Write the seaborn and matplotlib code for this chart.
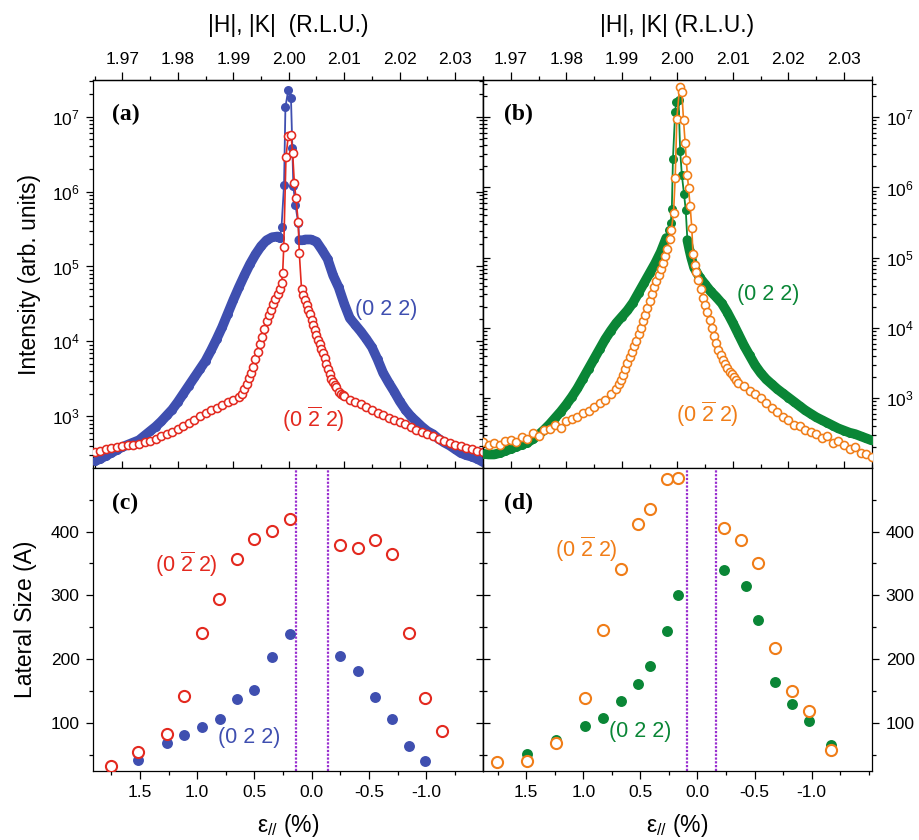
import numpy as np
import pandas as pd
import matplotlib
matplotlib.use("Agg")
import matplotlib.pyplot as plt
import seaborn as sns
from matplotlib.ticker import (MultipleLocator, LogLocator, NullFormatter,
                               FormatStrFormatter, FixedLocator)

# ---------------- data ----------------
# panel (a): (0 2 2) filled blue, (0 -2 2) open red ; log10 intensity
H_a_022 = [1.965, 1.966, 1.967, 1.968, 1.969, 1.970, 1.971, 1.972, 1.973, 1.974,
           1.975, 1.976, 1.977, 1.978, 1.979, 1.980, 1.981, 1.982, 1.983, 1.984,
           1.985, 1.986, 1.987, 1.988, 1.989, 1.990, 1.991, 1.992, 1.993, 1.994,
           1.995, 1.996, 1.997, 1.998,
           1.9984, 1.9987, 1.99915, 1.9994, 1.9999, 2.0004, 2.00065, 2.00083,
           2.0012, 2.0017, 2.0019,
           2.0025, 2.003,
           2.004, 2.005, 2.006, 2.007, 2.008, 2.009, 2.010, 2.011, 2.012, 2.013,
           2.014, 2.015, 2.016, 2.017, 2.018, 2.019, 2.020, 2.021, 2.022, 2.023,
           2.024, 2.025, 2.026, 2.027, 2.028, 2.029, 2.030, 2.031, 2.032, 2.033,
           2.034, 2.035]
logI_a_022 = [2.40, 2.43, 2.47, 2.51, 2.55, 2.59, 2.62, 2.65, 2.68, 2.74,
              2.80, 2.86, 2.93, 3.01, 3.09, 3.19, 3.30, 3.41, 3.52, 3.63,
              3.74, 3.88, 4.03, 4.19, 4.37, 4.55, 4.72, 4.88, 5.03, 5.16,
              5.27, 5.35, 5.39, 5.40,
              5.38, 5.53, 6.09, 7.13, 7.35, 7.25, 6.58, 6.07,
              5.82, 5.58, 5.35,
              5.35, 5.36,
              5.36, 5.33, 5.22, 5.10, 4.88, 4.72, 4.50, 4.31, 4.22, 4.13,
              4.03, 3.92, 3.76, 3.58, 3.45, 3.33, 3.20, 3.09, 3.00, 2.93,
              2.86, 2.80, 2.76, 2.70, 2.65, 2.61, 2.56, 2.51, 2.48, 2.46,
              2.43, 2.39]

H_a_0m22 = [1.965, 1.966, 1.967, 1.968, 1.969, 1.970, 1.971, 1.972, 1.973, 1.974,
            1.975, 1.976, 1.977, 1.978, 1.979, 1.980, 1.981, 1.982, 1.983, 1.984,
            1.985, 1.986, 1.987, 1.988, 1.989, 1.990, 1.991,
            1.9916, 1.9920, 1.9924, 1.9928, 1.9932, 1.9936, 1.9940, 1.9944, 1.9948,
            1.9952, 1.9956, 1.9960, 1.9964, 1.9968, 1.9972, 1.9976, 1.9980, 1.9984,
            1.9987, 1.9989, 1.9991, 1.9995, 1.9999, 2.0004, 2.0007, 2.0010, 2.0013,
            2.0017, 2.0019, 2.0023,
            2.0026, 2.0029, 2.0032, 2.0035, 2.0038, 2.0041, 2.0044, 2.0047, 2.0050,
            2.0053, 2.0056, 2.0059, 2.0062, 2.0065, 2.0068, 2.0071, 2.0074, 2.0077,
            2.0080, 2.0083, 2.0086, 2.0090, 2.0094, 2.0098,
            2.010, 2.011, 2.012, 2.013, 2.014, 2.015, 2.016, 2.017, 2.018, 2.019,
            2.020, 2.021, 2.022, 2.023, 2.024, 2.025, 2.026, 2.027, 2.028, 2.029,
            2.030, 2.031, 2.032, 2.033, 2.034, 2.035]
logI_a_0m22 = [2.52, 2.54, 2.56, 2.58, 2.59, 2.60, 2.61, 2.62, 2.63, 2.65,
               2.67, 2.70, 2.73, 2.76, 2.79, 2.83, 2.87, 2.91, 2.95, 3.00,
               3.04, 3.08, 3.11, 3.15, 3.19, 3.22, 3.26,
               3.30, 3.36, 3.43, 3.51, 3.58, 3.66, 3.76, 3.86, 3.96,
               4.06, 4.17, 4.27, 4.35, 4.42, 4.50, 4.57, 4.63, 4.70,
               4.78, 4.91, 5.26, 6.46, 6.74, 6.76, 6.52, 6.12, 5.91,
               5.60, 5.18, 4.70,
               4.62, 4.55, 4.49, 4.42, 4.37, 4.28, 4.22, 4.15, 4.09,
               4.02, 3.96, 3.90, 3.84, 3.78, 3.70, 3.63, 3.56, 3.50,
               3.46, 3.42, 3.39, 3.33, 3.30, 3.28,
               3.27, 3.22, 3.19, 3.16, 3.12, 3.08, 3.04, 3.01, 2.98, 2.95,
               2.92, 2.89, 2.86, 2.82, 2.79, 2.76, 2.73, 2.70, 2.67, 2.64,
               2.62, 2.60, 2.58, 2.56, 2.54, 2.52]

# panel (b): (0 2 2) filled green, (0 -2 2) open orange ; log10 intensity
H_b_022 = [1.965, 1.966, 1.967, 1.968, 1.969, 1.970, 1.971, 1.972, 1.973, 1.974,
           1.975, 1.976, 1.977, 1.978, 1.979, 1.980, 1.981, 1.982, 1.983, 1.984,
           1.985, 1.986, 1.987, 1.988, 1.989, 1.990, 1.991, 1.992, 1.993, 1.994,
           1.995, 1.996, 1.997, 1.998,
           1.9985, 1.9988, 1.9990, 1.9992, 1.9996, 1.9998, 2.0002, 2.0005, 2.0008,
           2.0012, 2.0015, 2.0018, 2.0022, 2.0025,
           2.003, 2.004, 2.005, 2.006, 2.007, 2.008, 2.009, 2.010, 2.011, 2.012,
           2.013, 2.014, 2.015, 2.016, 2.017, 2.018, 2.019, 2.020, 2.021, 2.022,
           2.023, 2.024, 2.025, 2.026, 2.027, 2.028, 2.029, 2.030, 2.031, 2.032,
           2.033, 2.034, 2.035]
logI_b_022 = [2.21, 2.20, 2.20, 2.22, 2.25, 2.28, 2.31, 2.34, 2.37, 2.42,
              2.48, 2.55, 2.63, 2.72, 2.81, 2.91, 3.02, 3.14, 3.28, 3.42,
              3.56, 3.70, 3.84, 3.96, 4.07, 4.16, 4.25, 4.36, 4.50, 4.64,
              4.78, 4.92, 5.08, 5.28,
              5.40, 5.49, 5.70, 6.41, 7.08, 7.22, 7.25, 6.52, 6.18,
              5.90, 5.68, 5.25, 5.10, 5.00,
              4.86, 4.72, 4.62, 4.52, 4.44, 4.35, 4.22, 4.07, 3.91, 3.75,
              3.61, 3.47, 3.36, 3.27, 3.20, 3.13, 3.07, 3.01, 2.95, 2.89,
              2.83, 2.78, 2.73, 2.69, 2.65, 2.61, 2.57, 2.54, 2.51, 2.49,
              2.46, 2.43, 2.40]

H_b_0m22 = [1.965, 1.966, 1.967, 1.968, 1.969, 1.970, 1.971, 1.972, 1.973, 1.974,
            1.975, 1.976, 1.977, 1.978, 1.979, 1.980, 1.981, 1.982, 1.983, 1.984,
            1.985, 1.986, 1.987, 1.988, 1.989,
            1.9894, 1.9898, 1.9902, 1.9906, 1.9910, 1.9914, 1.9918, 1.9922, 1.9926,
            1.9930, 1.9934, 1.9938, 1.9942, 1.9946, 1.9950, 1.9954, 1.9958, 1.9962,
            1.9966, 1.9970, 1.9974, 1.9978, 1.9982, 1.9986,
            1.9989, 1.9993, 1.9996, 1.9999, 2.0004, 2.0008, 2.0011, 2.0014, 2.0016,
            2.0018, 2.0020, 2.0023, 2.0026, 2.0028, 2.0031, 2.0034,
            2.0038, 2.0042, 2.0046, 2.0050, 2.0054, 2.0058, 2.0062, 2.0066, 2.0070,
            2.0074, 2.0078, 2.0082, 2.0086, 2.0090, 2.0094, 2.0098, 2.0102, 2.0106,
            2.011, 2.012, 2.013, 2.014, 2.015, 2.016, 2.017, 2.018, 2.019, 2.020,
            2.021, 2.022, 2.023, 2.024, 2.025, 2.026, 2.027, 2.028, 2.029, 2.030,
            2.031, 2.032, 2.033, 2.034, 2.035]
logI_b_0m22 = [2.38, 2.33, 2.36, 2.34, 2.39, 2.41, 2.38, 2.45, 2.42, 2.50,
               2.46, 2.55, 2.56, 2.62, 2.58, 2.68, 2.70, 2.74, 2.79, 2.82,
               2.88, 2.93, 2.98, 3.06, 3.13,
               3.20, 3.26, 3.33, 3.42, 3.50, 3.58, 3.66, 3.74, 3.82,
               3.91, 4.00, 4.10, 4.19, 4.28, 4.38, 4.48, 4.58, 4.67,
               4.75, 4.84, 4.93, 5.02, 5.13, 5.27,
               5.39, 5.63, 6.13, 6.98, 7.43, 7.36, 6.96, 6.63, 6.39,
               6.18, 5.99, 5.73, 5.42, 5.06, 4.90, 4.80,
               4.68, 4.55, 4.43, 4.33, 4.23, 4.12, 4.00, 3.88, 3.78,
               3.69, 3.61, 3.55, 3.49, 3.43, 3.38, 3.34, 3.30, 3.26,
               3.22, 3.17, 3.10, 3.06, 3.00, 2.93, 2.86, 2.80, 2.74, 2.69,
               2.62, 2.60, 2.55, 2.52, 2.49, 2.43, 2.46, 2.36, 2.39, 2.33,
               2.28, 2.31, 2.22, 2.20, 2.16]

# panel (c): lateral size (A) vs strain (%)
eps_c_0m22 = [1.751, 1.518, 1.26, 1.112, 0.955, 0.806, 0.652, 0.501, 0.346, 0.189,
              -0.25, -0.401, -0.55, -0.70, -0.846, -0.991, -1.14]
size_c_0m22 = [33, 55, 83, 143, 241, 295, 357, 388, 401, 420,
               379, 374, 387, 365, 241, 139, 87]
eps_c_022 = [1.516, 1.26, 1.112, 0.955, 0.803, 0.652, 0.501, 0.346, 0.189,
             -0.25, -0.401, -0.55, -0.70, -0.846, -0.99]
size_c_022 = [43, 69, 82, 94, 106, 138, 152, 203, 240,
              205, 182, 141, 106, 64, 41]
eps_c_bounds = [0.134, -0.140]

# panel (d)
eps_d_0m22 = [1.757, 1.494, 1.24, 0.986, 0.832, 0.674, 0.525, 0.42, 0.268, 0.169,
              -0.231, -0.383, -0.534, -0.678, -0.827, -0.975, -1.171]
size_d_0m22 = [39, 41, 69, 139, 246, 341, 412, 436, 483, 484,
               405, 387, 350, 218, 151, 119, 58]
eps_d_022 = [1.494, 1.24, 0.986, 0.829, 0.674, 0.523, 0.42, 0.268, 0.169,
             -0.231, -0.429, -0.534, -0.678, -0.827, -0.975, -1.171]
size_d_022 = [51, 74, 95, 108, 135, 162, 190, 245, 301,
              340, 315, 262, 165, 130, 103, 65]
eps_d_bounds = [0.096, -0.158]

eps_tick_labels = [1.5, 1.0, 0.5, 0.0, -0.5, -1.0]

# ---------------- style ----------------
sns.set_theme(style="ticks")
plt.rcParams["font.family"] = ["Liberation Sans", "DejaVu Sans"]
plt.rcParams.update({
    "mathtext.fontset": "custom",
    "mathtext.rm": "Liberation Sans",
    "mathtext.it": "Liberation Sans:italic",
    "mathtext.bf": "Liberation Sans:bold",
    "axes.unicode_minus": False,
    "text.color": "black",
    "axes.labelcolor": "black",
    "axes.edgecolor": "black",
    "xtick.color": "black",
    "ytick.color": "black",
    "axes.linewidth": 0.9,
})

BLUE = "#3f4fb0"
RED = "#e3291f"
GREEN = "#0a8636"
ORANGE = "#f07d18"
PURPLE = "#9a2fd0"
TICK_FS = 12.5
LABEL_FS = 16.5
ANNOT_FS = 15.5

fig = plt.figure(figsize=(9.19, 8.40), dpi=100)
axA = fig.add_axes([0.1017, 0.4425, 0.4238, 0.4623])
axB = fig.add_axes([0.5256, 0.4425, 0.4230, 0.4623])
axC = fig.add_axes([0.1017, 0.0821, 0.4238, 0.3604])
axD = fig.add_axes([0.5256, 0.0821, 0.4230, 0.3604])


def filled_curve(ax, H, logI, color, split):
    df = pd.DataFrame({"H": H, "I": 10 ** np.asarray(logI)})
    for part in (df[(df.I < 10 ** split) & (df.H < 2)],
                 df[(df.I < 10 ** split) & (df.H > 2)]):
        sns.lineplot(data=part, x="H", y="I", ax=ax, color=color, linewidth=7.0,
                     sort=False, estimator=None, solid_capstyle="round", zorder=2)
    sns.lineplot(data=df, x="H", y="I", ax=ax, color=color, linewidth=1.3,
                 marker="o", markersize=6.5, markerfacecolor=color,
                 markeredgecolor=color, markeredgewidth=0.0,
                 sort=False, estimator=None, zorder=3)


def open_curve(ax, H, logI, color):
    df = pd.DataFrame({"H": H, "I": 10 ** np.asarray(logI)})
    sns.lineplot(data=df, x="H", y="I", ax=ax, color=color, linewidth=1.2,
                 marker="o", markersize=5.8, markerfacecolor="white",
                 markeredgecolor=color, markeredgewidth=1.15,
                 sort=False, estimator=None, zorder=4)


def setup_top(ax, xlim, ylim, right_labels):
    ax.set_yscale("log")
    ax.set_xlim(*xlim)
    ax.set_ylim(*ylim)
    ax.set_xlabel("")
    ax.set_ylabel("")
    ax.xaxis.set_major_locator(MultipleLocator(0.01))
    ax.xaxis.set_minor_locator(MultipleLocator(0.005))
    ax.tick_params(axis="x", which="both", direction="in", bottom=True,
                   top=False, labelbottom=False)
    ax.tick_params(axis="x", which="major", length=5, width=0.9)
    ax.tick_params(axis="x", which="minor", length=3, width=0.9)
    ax.yaxis.set_major_locator(LogLocator(base=10, numticks=12))
    ax.yaxis.set_minor_locator(LogLocator(base=10, subs=np.arange(2, 10), numticks=12))
    ax.yaxis.set_minor_formatter(NullFormatter())
    sec = ax.secondary_xaxis("top")
    sec.xaxis.set_major_locator(MultipleLocator(0.01))
    sec.xaxis.set_minor_locator(MultipleLocator(0.005))
    sec.xaxis.set_major_formatter(FormatStrFormatter("%.2f"))
    sec.tick_params(axis="x", which="both", direction="out", labelsize=TICK_FS,
                    pad=3, width=0.9)
    sec.tick_params(axis="x", which="major", length=6)
    sec.tick_params(axis="x", which="minor", length=3)
    if right_labels:
        ax.yaxis.tick_right()
        ax.tick_params(axis="y", which="both", direction="out", right=True,
                       left=False, labelright=True, labelleft=False,
                       labelsize=TICK_FS, pad=5, width=0.9)
        other = ax.secondary_yaxis("left")
    else:
        ax.tick_params(axis="y", which="both", direction="out", left=True,
                       right=False, labelleft=True, labelsize=TICK_FS, pad=5,
                       width=0.9)
        other = ax.secondary_yaxis("right")
    ax.tick_params(axis="y", which="major", length=5)
    ax.tick_params(axis="y", which="minor", length=3)
    other.yaxis.set_major_formatter(NullFormatter())
    other.yaxis.set_minor_formatter(NullFormatter())
    other.tick_params(axis="y", which="both", direction="in", width=0.9)
    other.tick_params(axis="y", which="major", length=5)
    other.tick_params(axis="y", which="minor", length=3)
    return sec


def setup_bottom(ax, xlim, right_labels):
    ax.set_xlim(*xlim)
    ax.set_ylim(25, 499)
    ax.set_xlabel("")
    ax.set_ylabel("")
    ax.xaxis.set_major_locator(FixedLocator(eps_tick_labels))
    ax.xaxis.set_minor_locator(MultipleLocator(0.25))
    ax.xaxis.set_major_formatter(FormatStrFormatter("%.1f"))
    ax.tick_params(axis="x", which="both", direction="out", bottom=True, top=False,
                   labelsize=TICK_FS, pad=4, width=0.9)
    ax.tick_params(axis="x", which="major", length=6)
    ax.tick_params(axis="x", which="minor", length=3)
    ax.yaxis.set_major_locator(MultipleLocator(100))
    ax.yaxis.set_minor_locator(MultipleLocator(50))
    if right_labels:
        ax.yaxis.tick_right()
        ax.tick_params(axis="y", which="both", direction="out", right=True,
                       left=False, labelright=True, labelleft=False,
                       labelsize=TICK_FS, pad=5, width=0.9)
        other = ax.secondary_yaxis("left")
    else:
        ax.tick_params(axis="y", which="both", direction="out", left=True,
                       right=False, labelleft=True, labelsize=TICK_FS, pad=5,
                       width=0.9)
        other = ax.secondary_yaxis("right")
    ax.tick_params(axis="y", which="major", length=5)
    ax.tick_params(axis="y", which="minor", length=3)
    other.yaxis.set_major_locator(MultipleLocator(100))
    other.yaxis.set_minor_locator(MultipleLocator(50))
    other.yaxis.set_major_formatter(NullFormatter())
    other.tick_params(axis="y", which="both", direction="in", width=0.9)
    other.tick_params(axis="y", which="major", length=5)
    other.tick_params(axis="y", which="minor", length=3)
    ax.set_xlabel("ε$_{//}$ (%)", fontsize=LABEL_FS, labelpad=9)


# ---------------- panel (a) ----------------
filled_curve(axA, H_a_022, logI_a_022, BLUE, 5.45)
open_curve(axA, H_a_0m22, logI_a_0m22, RED)
secA = setup_top(axA, (1.9648, 2.0350), (10 ** 2.305, 10 ** 7.49), False)
secA.set_xlabel("|H|, |K|  (R.L.U.)", fontsize=LABEL_FS, labelpad=15)
axA.set_ylabel("Intensity (arb. units)", fontsize=LABEL_FS, labelpad=8)
axA.text(2.0119, 10 ** 4.35, "(0 2 2)", color=BLUE, fontsize=ANNOT_FS,
         ha="left", va="baseline")
axA.text(1.9987, 10 ** 2.857, r"(0 $\overline{\mathregular{2}}$ 2)", color=RED,
         fontsize=ANNOT_FS, ha="left", va="baseline")
axA.text(0.047, 0.91, "(a)", transform=axA.transAxes, fontsize=17,
         fontweight="bold", family="Liberation Serif", ha="left", va="center")

# ---------------- panel (b) ----------------
filled_curve(axB, H_b_022, logI_b_022, GREEN, 5.30)
open_curve(axB, H_b_0m22, logI_b_0m22, ORANGE)
secB = setup_top(axB, (1.9650, 2.0350), (10 ** 2.003, 10 ** 7.53), True)
secB.set_xlabel("|H|, |K| (R.L.U.)", fontsize=LABEL_FS, labelpad=15)
axB.text(2.0107, 10 ** 4.396, "(0 2 2)", color=GREEN, fontsize=ANNOT_FS,
         ha="left", va="baseline")
axB.text(1.9997, 10 ** 2.662, r"(0 $\overline{\mathregular{2}}$ 2)", color=ORANGE,
         fontsize=ANNOT_FS, ha="left", va="baseline")
axB.text(0.053, 0.91, "(b)", transform=axB.transAxes, fontsize=17,
         fontweight="bold", family="Liberation Serif", ha="left", va="center")

# ---------------- panel (c) ----------------
sns.scatterplot(x=eps_c_022, y=size_c_022, ax=axC, s=62, color=BLUE,
                edgecolor=BLUE, linewidth=0, zorder=3)
sns.scatterplot(x=eps_c_0m22, y=size_c_0m22, ax=axC, s=64, facecolor="white",
                edgecolor=RED, linewidth=1.5, zorder=4)
for e in eps_c_bounds:
    axC.axvline(e, color=PURPLE, linewidth=1.6, linestyle=(0, (1, 0.7)), zorder=1)
setup_bottom(axC, (1.906, -1.495), False)
axC.set_ylabel("Lateral Size (A)", fontsize=LABEL_FS, labelpad=10)
axC.text(1.367, 337, r"(0 $\overline{\mathregular{2}}$ 2)", color=RED,
         fontsize=ANNOT_FS, ha="left", va="baseline")
axC.text(0.815, 68.7, "(0 2 2)", color=BLUE, fontsize=ANNOT_FS,
         ha="left", va="baseline")
axC.text(0.047, 0.884, "(c)", transform=axC.transAxes, fontsize=17,
         fontweight="bold", family="Liberation Serif", ha="left", va="center")

# ---------------- panel (d) ----------------
sns.scatterplot(x=eps_d_022, y=size_d_022, ax=axD, s=62, color=GREEN,
                edgecolor=GREEN, linewidth=0, zorder=3)
sns.scatterplot(x=eps_d_0m22, y=size_d_0m22, ax=axD, s=64, facecolor="white",
                edgecolor=ORANGE, linewidth=1.5, zorder=4)
for e in eps_d_bounds:
    axD.axvline(e, color=PURPLE, linewidth=1.6, linestyle=(0, (1, 0.7)), zorder=1)
setup_bottom(axD, (1.879, -1.527), True)
axD.text(1.252, 360.7, r"(0 $\overline{\mathregular{2}}$ 2)", color=ORANGE,
         fontsize=ANNOT_FS, ha="left", va="baseline")
axD.text(0.771, 78, "(0 2 2)", color=GREEN, fontsize=ANNOT_FS,
         ha="left", va="baseline")
axD.text(0.053, 0.884, "(d)", transform=axD.transAxes, fontsize=17,
         fontweight="bold", family="Liberation Serif", ha="left", va="center")

for ax in (axA, axB, axC, axD):
    for sp in ax.spines.values():
        sp.set_linewidth(0.9)
        sp.set_color("black")

fig.savefig("out.png", dpi=100)
